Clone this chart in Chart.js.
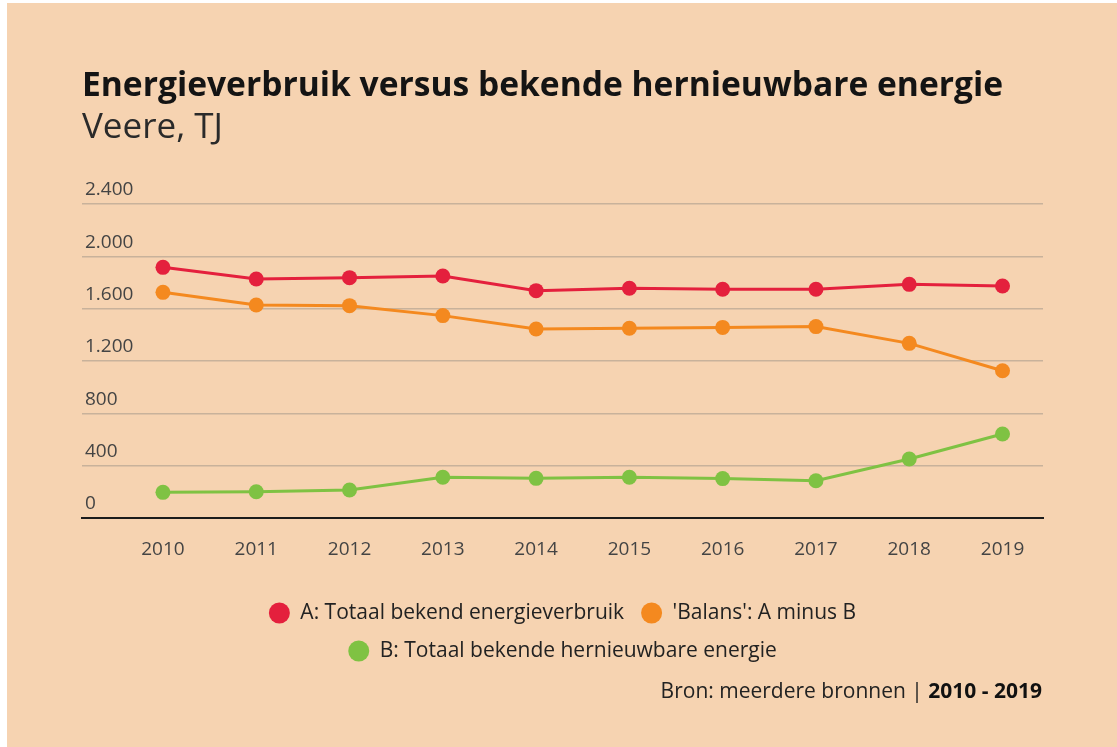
<!DOCTYPE html>
<html>
<head>
<meta charset="utf-8">
<script src="https://cdn.jsdelivr.net/npm/chart.js@4.4.1/dist/chart.umd.min.js"></script>
<style>
  html, body { margin: 0; padding: 0; background: #ffffff; width: 1117px; height: 747px; overflow: hidden; }
  #wrap { position: absolute; left: 7px; top: 3px; width: 1110px; height: 744px; background: #f6d3b1; }
  #c { display: block; }
  #src { position: absolute; right: 75px; top: 674px; line-height: 26px; font-family: "Open Sans", sans-serif; font-size: 21px; color: #222; white-space: nowrap; }
  #src b { font-weight: 700; color: #111; }
</style>
</head>
<body>
<div id="wrap">
  <canvas id="c" width="1110" height="744"></canvas>
  <div id="src">Bron: meerdere bronnen | <b>2010 - 2019</b></div>
</div>
<script>
// ---- data ----
const years = [2010, 2011, 2012, 2013, 2014, 2015, 2016, 2017, 2018, 2019];
const xTickLabels = ['2010', '2011', '2012', '2013', '2014', '2015', '2016', '2017', '2018', '2019'];
const totaalVerbruik = [1916, 1827, 1837, 1850, 1738, 1756, 1748, 1748, 1786, 1773];
const balans = [1725, 1628, 1623, 1547, 1445, 1450, 1457, 1463, 1335, 1126];
const hernieuwbaar = [196, 201, 214, 311, 303, 311, 301, 285, 451, 642];
const yTickValues = [0, 400, 800, 1200, 1600, 2000, 2400];
const yTickLabels = ['0', '400', '800', '1.200', '1.600', '2.000', '2.400'];
const seriesLabels = ['A: Totaal bekend energieverbruik', "'Balans': A minus B", 'B: Totaal bekende hernieuwbare energie'];
const titleText = 'Energieverbruik versus bekende hernieuwbare energie';
const subtitleText = 'Veere, TJ';

const colors = ['#e4203d', '#f4891f', '#7fc243'];
const seriesValues = [totaalVerbruik, balans, hernieuwbaar];

Chart.defaults.font.family = '"Open Sans", sans-serif';

const datasets = seriesValues.map((vals, k) => ({
  label: seriesLabels[k],
  data: years.map((yr, i) => ({ x: yr, y: vals[i] })),
  borderColor: colors[k],
  backgroundColor: colors[k],
  pointBackgroundColor: colors[k],
  pointBorderColor: colors[k],
  pointBorderWidth: 0,
  pointRadius: 7.5,
  pointHoverRadius: 7.5,
  borderWidth: 3,
  tension: 0,
  fill: false
}));

new Chart(document.getElementById('c'), {
  type: 'line',
  data: { datasets },
  options: {
    responsive: false,
    animation: false,
    devicePixelRatio: 1,
    layout: { padding: { left: 75, right: 74, top: 0, bottom: 75.5 } },
    plugins: {
      tooltip: { enabled: false },
      title: {
        display: true, text: titleText, align: 'start', color: '#141414',
        font: { size: 33.6, weight: 'bold', lineHeight: 1.2 },
        padding: { top: 63.6, bottom: 0 }
      },
      subtitle: {
        display: true, text: subtitleText, align: 'start', color: '#2a2a2a',
        font: { size: 35, weight: 'normal', lineHeight: 1.2 },
        padding: { top: 0, bottom: 55.1 }
      },
      legend: {
        position: 'bottom',
        align: 'center',
        labels: {
          usePointStyle: true,
          pointStyle: 'circle',
          pointStyleWidth: 21,
          boxHeight: 14.85,
          padding: 17,
          color: '#222',
          font: { size: 21 }
        }
      }
    },
    scales: {
      x: {
        type: 'linear',
        min: 2009.132,
        max: 2019.434,
        grid: { display: false, drawTicks: false },
        border: { display: true, color: '#1c1c1c', width: 2 },
        ticks: {
          stepSize: 1,
          includeBounds: false,
          padding: 20,
          color: '#444',
          font: { size: 19, lineHeight: 1.2 },
          maxRotation: 0,
          callback: (v) => { const i = years.indexOf(v); return i >= 0 ? xTickLabels[i] : ''; }
        },
        afterFit: (s) => { s.height = 67.5; }
      },
      y: {
        min: 0,
        max: 2400,
        grid: {
          drawTicks: false,
          lineWidth: 1.5,
          color: (ctx) => (ctx.tick && ctx.tick.value === 0) ? 'rgba(0,0,0,0)' : '#c8b29b'
        },
        border: { display: false },
        ticks: {
          stepSize: 400,
          mirror: true,
          padding: 3,
          labelOffset: -14,
          color: '#444',
          font: { size: 19, lineHeight: 1.2 },
          callback: (v) => { const i = yTickValues.indexOf(v); return i >= 0 ? yTickLabels[i] : ''; }
        },
        afterFit: (s) => { s.width = 0; }
      }
    }
  }
});
</script>
</body>
</html>
